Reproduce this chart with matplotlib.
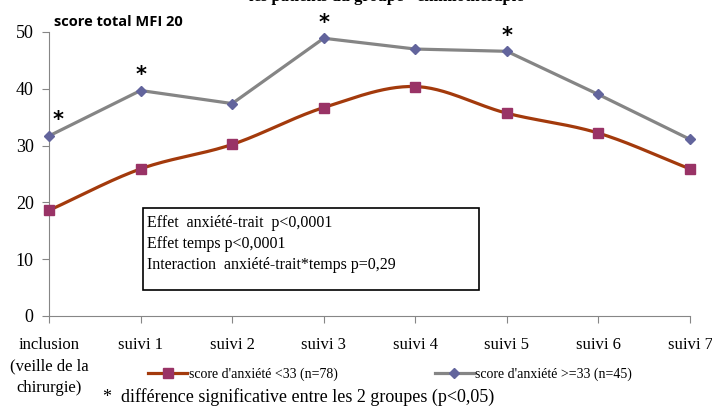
import numpy as np
import matplotlib
matplotlib.use("Agg")
import matplotlib.pyplot as plt
from matplotlib.lines import Line2D

categories = ["inclusion\n(veille de la\nchirurgie)", "suivi 1", "suivi 2", "suivi 3",
              "suivi 4", "suivi 5", "suivi 6", "suivi 7"]
low_anx = [18.6, 25.9, 30.2, 36.7, 40.4, 35.7, 32.2, 25.9]
high_anx = [31.7, 39.7, 37.4, 48.9, 47.0, 46.6, 39.0, 31.1]
signif = [0, 1, 3, 5]   # points marked with *
box_lines = ["Effet  anxiété-trait  p<0,0001", "Effet temps p<0,0001",
             "Interaction  anxiété-trait*temps p=0,29"]

serif = "Liberation Serif"


def smooth(x, y, n=30):
    # catmull-rom, close to the excel "smoothed line"
    x = np.asarray(x, float)
    y = np.asarray(y, float)
    px = np.concatenate([[2 * x[0] - x[1]], x, [2 * x[-1] - x[-2]]])
    py = np.concatenate([[2 * y[0] - y[1]], y, [2 * y[-1] - y[-2]]])
    xs, ys = [], []
    t = np.linspace(0, 1, n)
    for i in range(1, len(px) - 2):
        for p, out in ((px, xs), (py, ys)):
            p0, p1, p2, p3 = p[i - 1], p[i], p[i + 1], p[i + 2]
            out.extend(0.5 * (2 * p1 + (-p0 + p2) * t
                              + (2 * p0 - 5 * p1 + 4 * p2 - p3) * t ** 2
                              + (-p0 + 3 * p1 - 3 * p2 + p3) * t ** 3))
    return xs, ys


W, H = 712, 409
fig = plt.figure(figsize=(W / 100, H / 100), dpi=100)
ax = fig.add_axes([49 / W, 1 - 316 / H, 641 / W, 284 / H])

x = np.arange(len(categories))
sx, sy = smooth(x, low_anx)
ax.plot(sx, sy, color="#A33A0C", lw=2.3, clip_on=False, zorder=3)
ax.plot(x, low_anx, ls="none", marker="s", ms=7, color="#993366", clip_on=False, zorder=4)
ax.plot(x, high_anx, color="#858585", lw=2.3, clip_on=False, zorder=3)
ax.plot(x, high_anx, ls="none", marker="D", ms=5.5, color="#62649C", clip_on=False, zorder=4)

for i in signif:
    dx = 0.1 if i == 0 else 0
    ax.text(x[i] + dx, high_anx[i] + 1.0, "*", ha="center", va="bottom",
            fontsize=15, fontweight="bold", family="DejaVu Sans")

ax.set_xlim(0, 7)
ax.set_ylim(0, 50)
ax.set_yticks(range(0, 51, 10))
ax.set_xticks(x)
ax.set_xticklabels(categories, family=serif, fontsize=12, linespacing=1.45, va="top")
for lab in ax.get_yticklabels():
    lab.set_family(serif)
    lab.set_fontsize(13)
ax.tick_params(axis="both", direction="out", length=5, color="#868686", pad=6)
ax.tick_params(axis="x", pad=10)
for s in ("top", "right"):
    ax.spines[s].set_visible(False)
for s in ("left", "bottom"):
    ax.spines[s].set_color("#868686")

# stats box
for k, line in enumerate(box_lines):
    fig.text(147 / W, 1 - (223 + 21 * k) / H, line, family=serif, fontsize=11.5,
             va="center")
fig.patches.append(plt.Rectangle((143 / W, 1 - 290 / H), 336 / W, 82 / H,
                                 transform=fig.transFigure, fill=False, lw=1.2,
                                 ec="black"))

fig.text(54 / W, 1 - 26 / H, "score total MFI 20", family="Open Sans",
         fontweight="bold", fontsize=10.5)
fig.text(391 / W, 1 - 5 / H, "les patients du groupe \"chimiothérapie\"",
         family=serif, fontweight="bold", fontsize=12, ha="center", va="bottom")

handles = [Line2D([], [], color="#A33A0C", lw=2.3, marker="s", ms=7, mfc="#993366",
                  mec="#993366"),
           Line2D([], [], color="#858585", lw=2.3, marker="D", ms=5.5, mfc="#62649C",
                  mec="#62649C")]
fig.legend(handles, ["score d'anxiété <33 (n=78)", "score d'anxiété >=33 (n=45)"],
           loc="center", bbox_to_anchor=(390 / W, 1 - 374 / H), ncol=2,
           frameon=False, prop={"family": serif, "size": 10}, handlelength=2.8,
           handletextpad=0.1, columnspacing=7.0)

fig.text(103 / W, 1 - 397 / H,
         "*  différence significative entre les 2 groupes (p<0,05)",
         family=serif, fontsize=13, va="center")

fig.savefig("out.png", dpi=100)
